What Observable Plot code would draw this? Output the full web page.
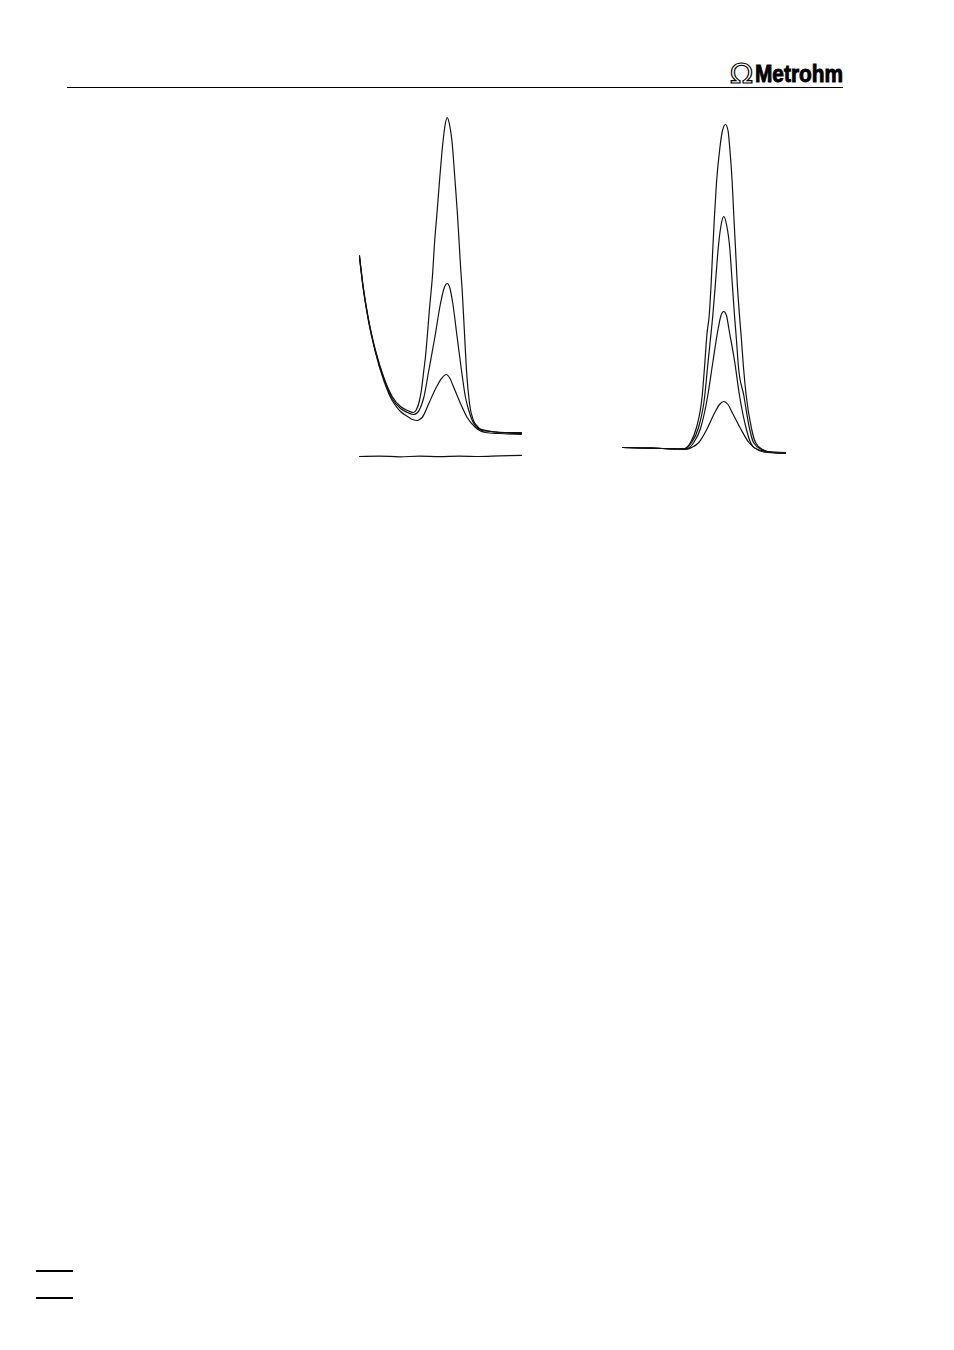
<!DOCTYPE html>
<html>
<head>
<meta charset="utf-8">
<script src="https://cdn.jsdelivr.net/npm/d3@7"></script>
<script src="https://cdn.jsdelivr.net/npm/@observablehq/plot@0.6"></script>
<style>
  html, body { margin: 0; padding: 0; background: #fff; }
  #page { position: relative; width: 954px; height: 1350px; overflow: hidden; background: #fff; }
  .abs { position: absolute; }
  .rule { position: absolute; background: #000; }
</style>
</head>
<body>
<div id="page">
  <div class="rule" style="left:67px; top:87px; width:776px; height:1px;"></div>
  <svg class="abs" style="left:711px; top:50px; overflow: visible;" width="146" height="44">
    <text x="30.5" y="33" font-family="DejaVu Sans, sans-serif" font-size="27" textLength="23" lengthAdjust="spacingAndGlyphs" fill="#fff" stroke="#000" stroke-width="1.1" text-anchor="middle">Ω</text>
    <text x="44" y="32" font-family="Liberation Sans Narrow, Liberation Sans, Arial, sans-serif" font-weight="bold" font-size="23.5" textLength="88" lengthAdjust="spacingAndGlyphs" fill="#000" stroke="#000" stroke-width="0.9">Metrohm</text>
  </svg>
  <div id="left" class="abs" style="left:355px; top:110px;"></div>
  <div id="right" class="abs" style="left:618px; top:112px;"></div>
  <div class="rule" style="left:36px; top:1270px; width:37px; height:2px;"></div>
  <div class="rule" style="left:36px; top:1297px; width:37px; height:2px;"></div>
</div>
<script>
// Left voltammogram: three standard additions on a decaying background, plus blank
const leftBlank = [[0,0],[20,0.4],[40,-0.3],[60,0.3],[80,-0.2],[100,0.4],[120,0],[140,0.7],[162,1.2]];
const leftA = [[0,201],[3.3,173],[8.7,139],[16,106],[24.3,79],[32.7,60],[41,50],[48,46],[54,44],[57,47],[60,56],[62,67],[64.3,86],[66,100],[68,123],[70,148],[71.7,166],[73,181],[75,213],[77.7,246],[80.3,279],[83.3,313],[85.5,331],[87.7,339],[90,332],[92.7,313],[95.3,279],[97.7,246],[99.7,213],[101.3,186],[102.7,166],[105,123],[107,86],[110,53],[114,36],[118,30],[122.7,26],[132,25],[145,24],[162,24]];
const leftB = [[0,200],[3.3,172],[8.7,138],[16,105],[24.3,78],[32.7,58],[41,48],[48,44],[54.3,42],[58,44],[61,49],[64.3,59],[69.3,86],[75.3,119],[81,153],[84.5,168],[87.7,173],[90.5,168],[93.3,153],[97.7,119],[102,86],[106,59],[109.3,46],[114.3,33],[119,28],[127,26],[140,24],[162,23]];
const leftC = [[0,199],[3.3,171],[8.7,137],[16,104],[24.3,76],[32.7,56],[36,51],[41,45],[48,40],[53,37],[57.7,36],[60,37],[62.7,39],[69.3,53],[76.7,69],[82,78],[86.7,82],[90.5,78],[94.3,69],[101,53],[107.7,39],[116,29],[126,24],[140,23],[162,22]];

// Right voltammogram: four peaks on a flat baseline
const rightA = [[0,11],[20,10.5],[40,10],[55,9.5],[62,10],[68,16],[73.7,30],[79.7,63],[82,91],[84.5,125],[86.7,143],[88.7,176],[90.3,210],[92,243],[94,276],[97.3,310],[100,328],[103,334],[105.5,328],[107.3,310],[109.7,276],[111.3,243],[113,210],[114.7,176],[117,143],[119,118],[121,91],[123.7,63],[129,30],[133,16],[140,9],[150,6],[163,5]];
const rightB = [[0,11],[20,10.5],[40,10],[55,9.5],[63,10],[69,16],[75.7,30],[82.3,63],[85,91],[88,120],[90.3,143],[93,176],[95.7,210],[98.5,233],[101.3,242],[104,234],[107.3,210],[109.7,176],[112,143],[114,118],[116,91],[121.3,63],[127,30],[131,16],[139,9],[150,6],[163,5.5]];
const rightC = [[0,11],[20,10.5],[40,10],[55,9.5],[64.7,10],[71.3,16],[78,30],[85.3,63],[90.3,96],[95.7,130],[98.5,143],[101.3,147],[104,143],[106.3,130],[112.3,96],[117,63],[123.7,30],[128,16],[133,10],[145,7],[163,6]];
const rightD = [[0,11],[20,10.5],[40,10],[55,9.5],[63,9],[69,11],[76.3,16],[84.7,30],[92.3,46],[97,54],[101.3,57],[105.5,54],[109.7,46],[118,30],[126.3,16],[136.3,8],[145,6],[163,5]];

function toRows(arr, s) { return arr.map(([x, y]) => ({x, y, s})); }

const leftData = [
  ...toRows(leftBlank, "blank"), ...toRows(leftA, "A"), ...toRows(leftB, "B"), ...toRows(leftC, "C")
];
const rightData = [
  ...toRows(rightA, "A"), ...toRows(rightB, "B"), ...toRows(rightC, "C"), ...toRows(rightD, "D")
];

function makePlot(data, w) {
  return Plot.plot({
    width: w, height: 352,
    marginLeft: 4, marginRight: 4, marginTop: 6, marginBottom: 6,
    x: {domain: [0, w - 8], axis: null},
    y: {domain: [0, 340], axis: null},
    style: {background: "transparent", overflow: "visible"},
    marks: [
      Plot.line(data, {x: "x", y: "y", z: "s", stroke: "#111", strokeWidth: 1.2, curve: "monotone-x"})
    ]
  });
}

document.getElementById("left").appendChild(makePlot(leftData, 170));
document.getElementById("right").appendChild(makePlot(rightData, 171));
</script>
</body>
</html>
